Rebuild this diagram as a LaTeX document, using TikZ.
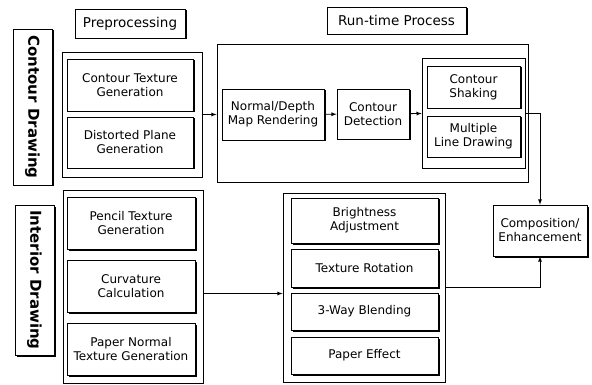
\documentclass[tikz,border=0pt]{standalone}
\usepackage{fontspec}
\setmainfont{DejaVu Sans}
\usetikzlibrary{shadows}

\begin{document}
\begin{tikzpicture}[x=1pt, y=-1pt, line width=0.8pt, >=latex,
		every node/.style={font=\fontsize{12}{14}\selectfont, align=center, inner sep=1pt},
		stepbox/.style={draw, fill=white, line width=0.7pt,
			drop shadow={shadow xshift=1.5pt, shadow yshift=-1.5pt, opacity=1, fill=black}},
		groupbox/.style={draw, line width=0.8pt},
		headbox/.style={draw, fill=white, line width=0.7pt, font=\fontsize{13.5}{15}\selectfont,
			drop shadow={shadow xshift=1.5pt, shadow yshift=-1.5pt, opacity=1, fill=black}},
		sidebox/.style={headbox, rotate=-90, font=\fontsize{15}{17}\selectfont\bfseries}]
		\useasboundingbox (0,0) rectangle (592,385);

		% Draw the column titles
		\node[headbox, minimum width=110, minimum height=29] (prehead) at (130,23.5) {Preprocessing};
		\node[headbox, minimum width=139, minimum height=27] (runhead) at (396.5,20.5) {Run-time Process};

		% Draw the row titles
		\node[sidebox, minimum width=156, minimum height=39] (contourside) at (32.5,107) {Contour Drawing};
		\node[sidebox, minimum width=150, minimum height=39] (interiorside) at (34.5,280) {Interior Drawing};

		% Contour drawing: preprocessing
		\node[groupbox, minimum width=140, minimum height=125] (cpre) at (132,114.5) {};
		\node[stepbox, minimum width=126, minimum height=52] (ctexture) at (130,85) {Contour Texture\\Generation};
		\node[stepbox, minimum width=126, minimum height=51] (distorted) at (130,142.5) {Distorted Plane\\Generation};

		% Contour drawing: run-time
		\node[groupbox, minimum width=311, minimum height=138] (crun) at (372.5,113) {};
		\node[stepbox, minimum width=102, minimum height=51] (rendering) at (273,114.5) {Normal/Depth\\Map Rendering};
		\node[stepbox, minimum width=72, minimum height=50] (detection) at (373,114) {Contour\\Detection};
		\node[groupbox, line width=0.6pt, minimum width=103, minimum height=110] (lines) at (473.5,113) {};
		\node[stepbox, minimum width=93, minimum height=42] (shaking) at (473.5,87) {Contour\\Shaking};
		\node[stepbox, minimum width=93, minimum height=41] (multiple) at (473.5,136.5) {Multiple\\Line Drawing};

		% Interior drawing: preprocessing
		\node[groupbox, minimum width=140, minimum height=193] (ipre) at (133,286.5) {};
		\node[stepbox, minimum width=128, minimum height=52] (pencil) at (131,223) {Pencil Texture\\Generation};
		\node[stepbox, minimum width=128, minimum height=52] (curvature) at (131,286) {Curvature\\Calculation};
		\node[stepbox, minimum width=128, minimum height=52] (papernormal) at (131,349) {Paper Normal\\Texture Generation};

		% Interior drawing: run-time
		\node[groupbox, minimum width=162, minimum height=189] (irun) at (364,287.5) {};
		\node[stepbox, minimum width=147, minimum height=45] (brightness) at (364.5,220.5) {Brightness\\Adjustment};
		\node[stepbox, minimum width=147, minimum height=38] (rotation) at (364.5,268) {Texture Rotation};
		\node[stepbox, minimum width=147, minimum height=37] (blending) at (364.5,311.5) {3-Way Blending};
		\node[stepbox, minimum width=147, minimum height=37] (papereffect) at (364.5,355.5) {Paper Effect};

		% Final step
		\node[stepbox, minimum width=94, minimum height=51] (composition) at (540,230.5) {Composition/\\Enhancement};

		% Draw the connectors
		\draw[->] (cpre.east) -- (cpre.east -| crun.west);
		\draw[->] (rendering) -- (detection);
		\draw[->] (detection) -- (lines);
		\draw[->] (lines.east) -| (composition.north);
		\draw[->] ([yshift=-7pt]ipre.east) -- ([yshift=-7pt]ipre.east -| irun.west);
		\draw[->] (irun.east) -| (composition.south);
	\end{tikzpicture}
\end{document}
